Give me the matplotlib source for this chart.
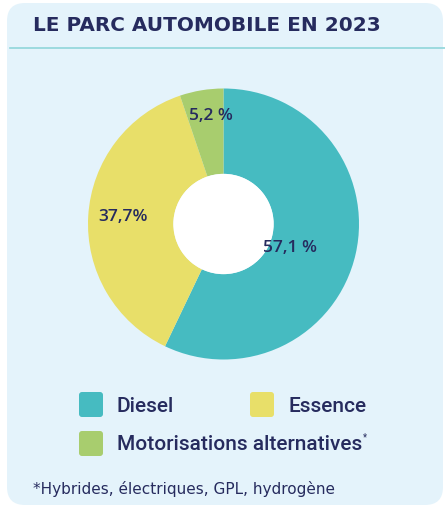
import matplotlib.pyplot as plt
from matplotlib.patches import FancyBboxPatch, Circle

# data
categories = ['Diesel', 'Essence', 'Motorisations alternatives']
shares = [57.1, 37.7, 5.2]
share_labels = ['57,1 %', '37,7%', '5,2 %']
colors = ['#46BBC1', '#E8DF69', '#A8CD6E']

title = 'LE PARC AUTOMOBILE EN 2023'
footnote = '*Hybrides, électriques, GPL, hydrogène'

navy = '#262B5E'
W, H = 445, 509

fig = plt.figure(figsize=(W / 100, H / 100), dpi=100)
fig.patch.set_facecolor('white')

# background axes in pixel coords
bg = fig.add_axes([0, 0, 1, 1])
bg.set_xlim(0, W)
bg.set_ylim(H, 0)
bg.axis('off')

card = FancyBboxPatch((7 + 18, 3 + 18), 436 - 36, 502 - 36,
                      boxstyle='round,pad=18', fc='#E4F3FB', ec='none')
bg.add_patch(card)
bg.plot([10, 445], [48, 48], color='#8FD6DA', lw=1.2)

bg.text(33, 25.5, title, fontsize=14.4, fontfamily='DejaVu Sans', fontweight='bold',
        color=navy, va='center', ha='left')

# legend
leg_pos = [(79, 392), (250, 392), (79, 431)]
leg_txt = []
for (x, y), cat, c in zip(leg_pos, categories, colors):
    bg.add_patch(FancyBboxPatch((x + 3, y + 3), 18, 19, boxstyle='round,pad=3',
                                fc=c, ec='none'))
    leg_txt.append(bg.text(x + 38, y + 14, cat, fontsize=15, fontfamily='Roboto',
                           fontweight='medium', color=navy, va='center', ha='left'))

bg.text(33, 489, footnote, fontsize=11, fontfamily='DejaVu Sans', color=navy,
        va='center', ha='left')

# donut
cx, cy, r = 223.5, 224, 135.5
ax = fig.add_axes([(cx - r) / W, (H - cy - r) / H, 2 * r / W, 2 * r / H])
ax.pie(shares, colors=colors, startangle=90, counterclock=False,
       wedgeprops=dict(width=0.63, edgecolor='none'))
ax.add_patch(Circle((0, 0), 0.37, fc='white', ec='none'))
ax.set_xlim(-1, 1)
ax.set_ylim(-1, 1)
ax.set_aspect('equal')

lab_pos = [(0.49, -0.18), (-0.74, 0.05), (-0.09, 0.80)]
for (x, y), t in zip(lab_pos, share_labels):
    ax.text(x, y, t, fontsize=12.5, fontfamily='Open Sans', fontweight='semibold',
            color=navy, ha='center', va='center')

# asterisk right after the last legend label
fig.canvas.draw()
bb = leg_txt[-1].get_window_extent()
bg.text(bb.x1 + 1, 437, '*', fontsize=7, fontfamily='Roboto', color=navy,
        va='center')

fig.savefig('out.png', dpi=100)
